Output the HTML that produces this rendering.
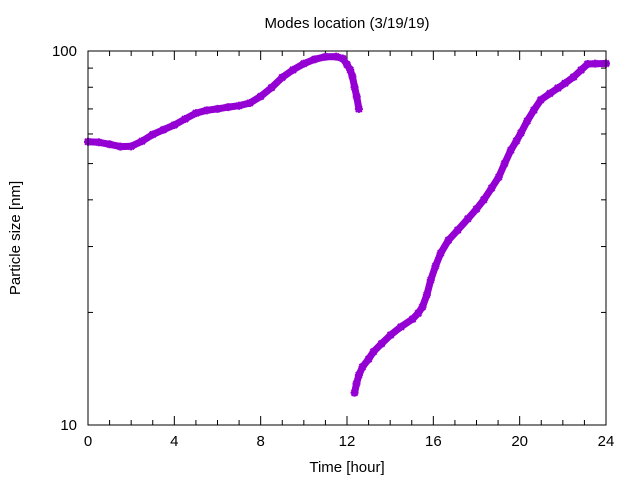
<!DOCTYPE html>
<html><head><meta charset="utf-8"><style>
body{margin:0;background:#fff}
svg{display:block;font-family:"Liberation Sans",sans-serif}
</style></head><body>
<svg id="chart" width="640" height="480" viewBox="0 0 640 480">
<rect width="640" height="480" fill="#fff"/>
<text x="347" y="28" font-size="15" text-anchor="middle">Modes location (3/19/19)</text>
<text x="347" y="472" font-size="15" text-anchor="middle">Time [hour]</text>
<text transform="translate(20,238) rotate(-90)" font-size="15" text-anchor="middle">Particle size [nm]</text>
<g id="axes"></g>
<g id="marks"></g>
<rect x="88" y="51" width="518" height="374" fill="none" stroke="#000" stroke-width="1"/>
</svg>
<script>
const xTicks = [0,4,8,12,16,20,24];
const yTicks = [10,100];
const s1Time = [0,0.5,1,1.5,2,2.5,3,3.5,4,4.5,5,5.5,6,6.5,7,7.5,8,8.5,9,9.5,10,10.5,11,11.5,11.8,12,12.15,12.25,12.35,12.45,12.55];
const s1Size = [57.2,57.0,56.3,55.5,55.6,57.4,59.8,61.6,63.4,65.8,68.2,69.4,70.0,70.8,71.4,72.6,75.6,79.8,85.0,89.0,92.5,95.0,96.5,96.6,95.5,92.0,89.0,85.5,80.0,75.5,70.0];
const s2Time = [12.35,12.44,12.55,12.72,13.0,13.23,13.6,14.02,14.5,15.04,15.3,15.5,15.7,15.88,16.1,16.34,16.7,17.13,17.6,18.0,18.34,18.7,19.03,19.3,19.59,19.85,20.06,20.35,20.66,20.98,21.4,21.77,22.1,22.5,22.85,23.15,23.5,24];
const s2Size = [12.2,12.9,13.6,14.3,15.0,15.7,16.5,17.4,18.3,19.2,19.9,20.7,22.3,24.4,26.6,28.8,31.2,33.2,35.6,37.8,40.0,43.0,46.0,50.0,54.3,57.5,60.4,65.0,69.5,74.0,77.0,79.6,82.0,85.2,89.0,92.3,92.5,92.6];

const X0=88,X1=606,Y0=425,Y1=51;
const xs=t=>X0+(X1-X0)*t/24;
const ys=v=>Y0-(Y0-Y1)*(Math.log10(v)-1);
const NS='http://www.w3.org/2000/svg';
const axes=document.getElementById('axes'), marks=document.getElementById('marks');
function mk(tag,attrs,parent){const e=document.createElementNS(NS,tag);for(const k in attrs)e.setAttribute(k,attrs[k]);parent.appendChild(e);return e;}
for(let h=0;h<=24;h++){
  const x=xs(h), L=(h%4===0)?9:5;
  const t1=mk('line',{x1:x,y1:Y0,x2:x,y2:Y0-L,stroke:'#000'},axes);
  
  
  const t2=mk('line',{x1:x,y1:Y1,x2:x,y2:Y1+L,stroke:'#000'},axes);
  
  
}
xTicks.forEach(h=>{
  const t=mk('text',{x:xs(h),y:446,'font-size':15,'text-anchor':'middle'},axes);
  t.textContent=h;
  
  
});
for(let v=10;v<=100;v+=10){
  const y=ys(v), L=(v===10||v===100)?9:5;
  const a=mk('line',{x1:X0,y1:y,x2:X0+L,y2:y,stroke:'#000'},axes);
  
  
  const b=mk('line',{x1:X1,y1:y,x2:X1-L,y2:y,stroke:'#000'},axes);
  
  
}
yTicks.forEach(v=>{
  const t=mk('text',{x:77,y:ys(v)+5,'font-size':15,'text-anchor':'end'},axes);
  t.textContent=v;
  
  
});
const C='#9400d3';
function series(T,V,name){
  const g=mk('g',{},marks);
  
  
  const d=T.map((t,i)=>(i?'L':'M')+xs(t).toFixed(1)+','+ys(V[i]).toFixed(1)).join('');
  const p=mk('path',{d:d,fill:'none',stroke:C,'stroke-width':7,'stroke-linejoin':'round','stroke-linecap':'round'},g);
  
  
  T.forEach((t,i)=>{
    const x=xs(t),y=ys(V[i]);
    const m=mk('path',{d:`M${x-4},${y}h8M${x},${y-4}v8M${x-3},${y-3}l6,6M${x+3},${y-3}l-6,6`,stroke:C,'stroke-width':2.2},g);
    
    
  });
}
series(s1Time,s1Size,'mode-1-series');
series(s2Time,s2Size,'mode-2-series');
</script>
</body></html>
